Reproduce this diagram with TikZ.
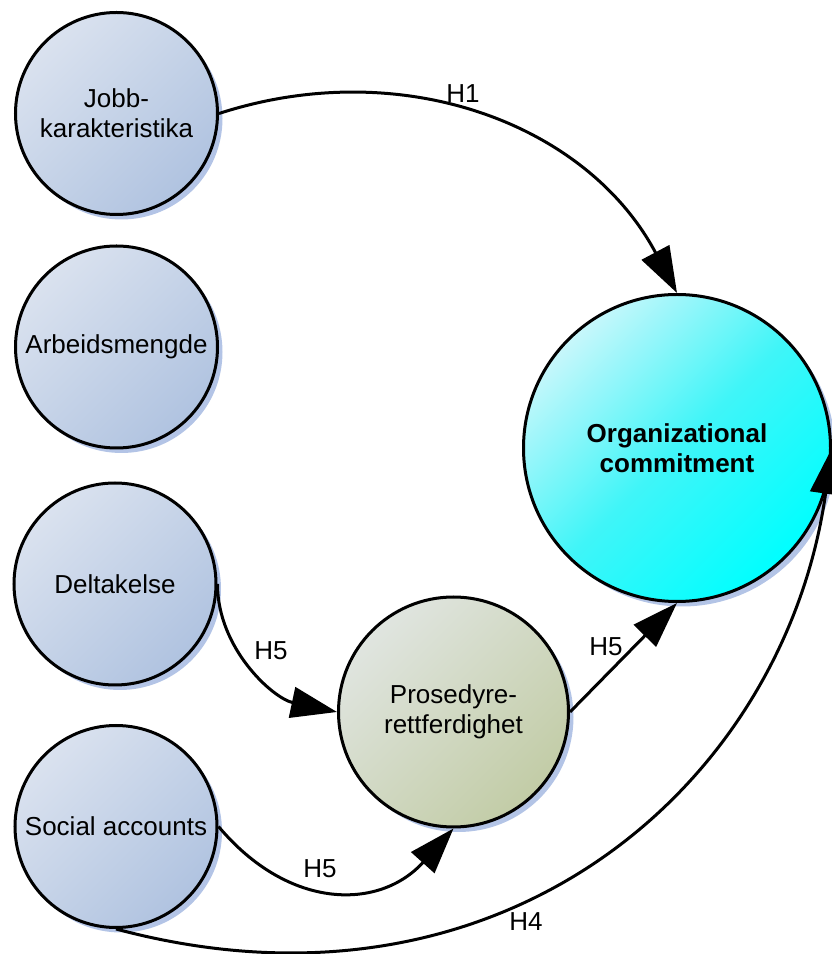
\documentclass[tikz,border=0pt]{standalone}
\usepackage{fontspec}
\setmainfont{Liberation Sans}
\usetikzlibrary{arrows.meta,shadows}

\definecolor{bluelight}{HTML}{DAE2EF}
\definecolor{bluedark}{HTML}{B0C3E0}
\definecolor{olivelight}{HTML}{E0E5E0}
\definecolor{olivedark}{HTML}{C2CCA6}
\definecolor{cyanlight}{HTML}{C8F7FB}
\definecolor{cyanmid}{HTML}{40F5F8}
\definecolor{shadowblue}{HTML}{B3C4E6}

\begin{document}
\begin{tikzpicture}[x=1pt,y=1pt,
  concept/.style={circle, draw=black, line width=3pt, inner sep=0pt,
    align=center, font=\fontsize{26}{30}\selectfont,
    drop shadow={shadow xshift=5pt, shadow yshift=-5pt, fill=shadowblue, opacity=1}},
  factor/.style={concept, minimum size=202pt,
    top color=bluelight, bottom color=bluedark, shading angle=45},
  mediator/.style={concept, minimum size=230pt,
    top color=olivelight, bottom color=olivedark, shading angle=45},
  outcome/.style={concept, minimum size=307pt,
    top color=cyanlight, bottom color=cyan, middle color=cyanmid, shading angle=45,
    font=\fontsize{26}{30}\selectfont\bfseries},
  link/.style={line width=3pt, -{Triangle[length=46pt,width=31pt]}},
  hyp/.style={font=\fontsize{26}{30}\selectfont, inner sep=0pt}
]
\useasboundingbox (0,0) rectangle (832,954);

% antecedents
\node[factor] (J) at (116.5,840.5) {Jobb-\\karakteristika};
\node[factor] (A) at (116.5,607) {Arbeidsmengde};
\node[factor] (D) at (115,370) {Deltakelse};
\node[factor] (S) at (116,127.5) {Social accounts};

% mediator and outcome
\node[mediator] (P) at (453.5,242) {Prosedyre-\\rettferdighet};
\node[outcome] (O) at (677,506) {Organizational\\commitment};

% hypothesised paths
\draw[link] (J.east) to[out=18, in=118, distance=192pt] (O.north);
\draw[link] (D.east) to[out=-90, in=168, distance=65pt] (P.west);
\draw[link] (S.east) to[out=-50, in=228, distance=110pt] (P.south);
\draw[link] (P.east) -- (O.south);
\draw[link] (S.south) to[out=-15, in=-98, out distance=400pt, in distance=340pt] (O.east);

% path labels
\node[hyp] (h1) at (463,860) {H1};
\node[hyp] (h5a) at (271,303) {H5};
\node[hyp] (h5b) at (606,307) {H5};
\node[hyp] (h5c) at (320,85) {H5};
\node[hyp] (h4) at (526,32) {H4};
\end{tikzpicture}
\end{document}
